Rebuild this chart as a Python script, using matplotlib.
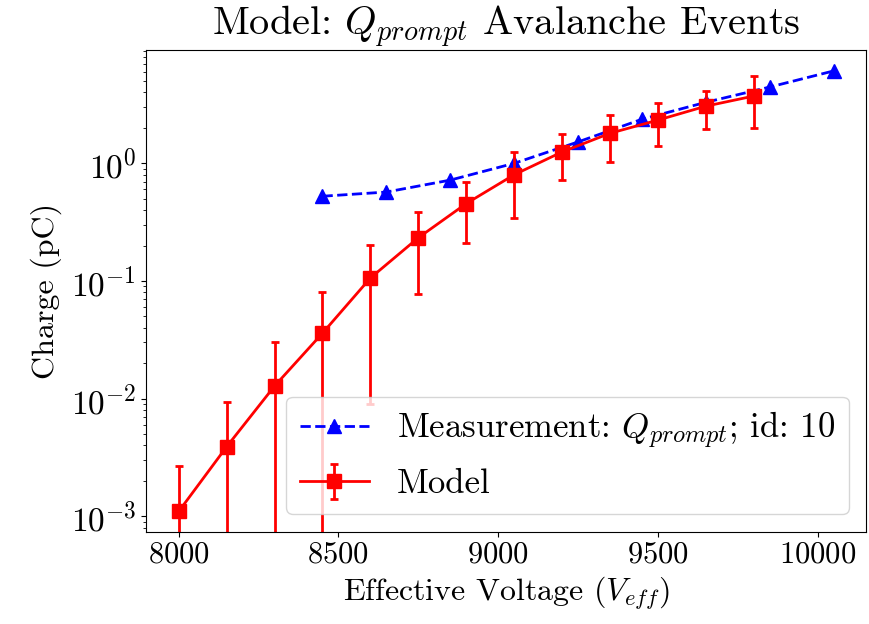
import matplotlib
matplotlib.use('Agg')
import matplotlib.pyplot as plt

plt.rcParams['font.family'] = 'serif'
plt.rcParams['font.serif'] = ['cmr10']
plt.rcParams['mathtext.fontset'] = 'cm'
plt.rcParams['axes.formatter.use_mathtext'] = True
plt.rcParams['axes.unicode_minus'] = False

# measured prompt charge
meas_v = [8450, 8650, 8850, 9050, 9250, 9450, 9650, 9850, 10050]
meas_q = [0.525, 0.57, 0.72, 1.0, 1.52, 2.37, 3.3, 4.45, 6.1]

# model prediction with uncertainty
model_v = [8000, 8150, 8300, 8450, 8600, 8750, 8900, 9050, 9200, 9350, 9500, 9650, 9800]
model_q = [0.0011, 0.0039, 0.0128, 0.036, 0.106, 0.233, 0.455, 0.80, 1.25, 1.8, 2.33, 3.06, 3.73]
model_err = [0.0016, 0.0055, 0.0175, 0.044, 0.097, 0.155, 0.245, 0.46, 0.53, 0.78, 0.92, 1.09, 1.75]

fig = plt.figure(figsize=(8.69, 6.24), dpi=100)
ax = fig.add_subplot(1, 1, 1)

ax.plot(meas_v, meas_q, 'b^--', lw=2, ms=10, label=r'Measurement: $Q_{prompt}$; id: 10')
ax.errorbar(model_v, model_q, yerr=model_err, fmt='rs-', lw=2, ms=10,
            elinewidth=2, capsize=3, capthick=2, label='Model')

ax.set_yscale('log')
ax.set_ylim(7.4e-4, 9.2)
ax.set_xticks([8000, 8500, 9000, 9500, 10000])
ax.tick_params(axis='x', labelsize=22)
ax.tick_params(axis='y', labelsize=24)
ax.set_xlabel(r'Effective Voltage ($V_{eff}$)', fontsize=23)
ax.set_ylabel('Charge (pC)', fontsize=23, labelpad=6)
ax.set_title(r'Model: $Q_{prompt}$ Avalanche Events', fontsize=29)
ax.legend(loc='lower right', fontsize=25)

fig.subplots_adjust(left=0.168, right=0.997, top=0.92, bottom=0.148)
fig.savefig('out.png', dpi=100)
